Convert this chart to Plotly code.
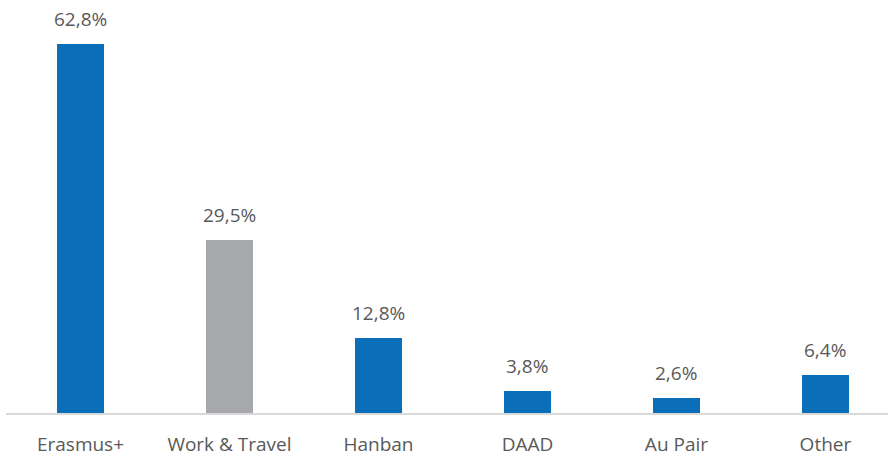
import plotly.graph_objects as go

categories = ["Erasmus+", "Work & Travel", "Hanban", "DAAD", "Au Pair", "Other"]
values = [62.8, 29.5, 12.8, 3.8, 2.6, 6.4]
labels = ["62,8%", "29,5%", "12,8%", "3,8%", "2,6%", "6,4%"]
colors = ["#0A6FB8", "#A6A8AB", "#0A6FB8", "#0A6FB8", "#0A6FB8", "#0A6FB8"]

font_family = "Open Sans, Noto Sans, sans-serif"
text_color = "#595959"

fig = go.Figure(go.Bar(
    x=categories,
    y=values,
    marker=dict(color=colors, line=dict(width=0)),
    width=0.315,
    hoverinfo="skip",
))

for cat, val, lab in zip(categories, values, labels):
    fig.add_annotation(
        x=cat, y=val, text=lab, showarrow=False,
        yanchor="bottom", yshift=10,
        font=dict(family=font_family, size=19, color=text_color),
    )

fig.update_layout(
    width=891,
    height=458,
    margin=dict(l=6, r=3, t=20, b=45, autoexpand=False),
    paper_bgcolor="white",
    plot_bgcolor="white",
    showlegend=False,
    bargap=0,
    xaxis=dict(
        range=[-0.5, 5.42],
        showgrid=False,
        showline=True,
        linecolor="#D9D9D9",
        linewidth=2,
        ticks="",
        ticklabelstandoff=13,
        automargin=False,
        tickfont=dict(family=font_family, size=19, color=text_color),
        fixedrange=True,
    ),
    yaxis=dict(
        range=[0, 66.88],
        visible=False,
        automargin=False,
        fixedrange=True,
    ),
)

fig.write_html("out.html")
